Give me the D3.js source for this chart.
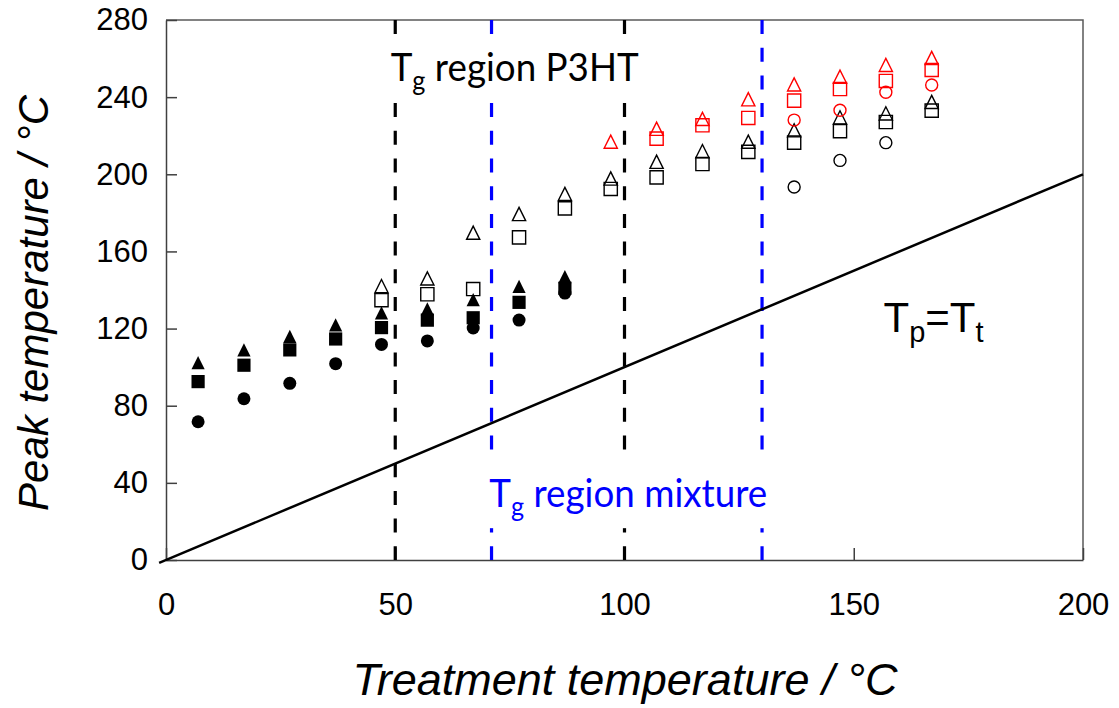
<!DOCTYPE html>
<html lang="en">
<head>
<meta charset="UTF-8">
<title>Peak temperature vs treatment temperature</title>
<script src="https://d3js.org/d3.v7.min.js"></script>
<style>
  body { margin: 0; padding: 0; background: #fff; }
  svg { display: block; }
</style>
</head>
<body>
<div id="chart"></div>
<script>
// treatment temperatures (°C)
const ttFilled = [7, 17, 27, 37, 47, 57, 67, 77, 87];
const ttOpen = [47, 57, 67, 77, 87, 97, 107, 117, 127, 137, 147, 157, 167];
const ttOpenCircle = [137, 147, 157];
const ttRedTri = [97, 107, 117, 127, 137, 147, 157, 167];
const ttRedSq = [107, 117, 127, 137, 147, 157, 167];
const ttRedCircle = [137, 147, 157, 167];

// peak temperatures (°C)
const filledTri = [102.3, 109.0, 116.0, 121.9, 128.1, 130.2, 135.0, 141.9, 146.9];
const filledSq = [92.5, 101.0, 109.0, 114.6, 120.5, 124.4, 125.6, 133.6, 140.9];
const filledCircle = [71.7, 83.6, 91.6, 101.8, 111.8, 113.6, 120.3, 124.4, 138.4];
const openTri = [142.0, 146.0, 169.7, 179.4, 189.8, 197.8, 206.5, 212.0, 216.9, 222.8, 229.5, 231.6, 237.5];
const openSq = [134.7, 137.8, 140.5, 167.3, 182.3, 192.4, 198.4, 205.3, 211.6, 216.4, 222.4, 227.1, 233.0];
const openCircle = [193.4, 207.2, 216.4];
const redTri = [216.9, 223.6, 228.7, 238.9, 246.6, 250.6, 256.7, 260.3];
const redSq = [218.5, 225.4, 229.2, 238.2, 244.2, 248.4, 254.1];
const redCircle = [228.1, 233.2, 242.5, 246.3];

// Tg regions (°C)
const tgP3HT = [50, 100];
const tgMixture = [71, 130];

const xTicks = [0, 50, 100, 150, 200];
const yTicks = [0, 40, 80, 120, 160, 200, 240, 280];

const W = 1119, H = 708;
const margin = {top: 20, right: 36, bottom: 148, left: 166};
const width = W - margin.left - margin.right,
      height = H - margin.top - margin.bottom;

const svg = d3.select("#chart").append("svg")
    .attr("width", W).attr("height", H);
const g = svg.append("g")
    .attr("transform", `translate(${margin.left},${margin.top})`);

const x = d3.scaleLinear().domain([0, 200]).range([0, width]);
const y = d3.scaleLinear().domain([0, 280]).range([height, 0]);

const axisFont = "'Liberation Sans', Arial, sans-serif";
const calibriLike = "Lato, 'Open Sans', sans-serif";

// frame (top + right)
g.append("path")
    .attr("d", `M0,0H${width}V${height}`)
    .attr("fill", "none").attr("stroke", "#595959").attr("stroke-width", 1.5);

// axes with inward ticks
const yAxis = g.append("g")
    .call(d3.axisLeft(y).tickValues(yTicks).tickSizeInner(-11).tickSizeOuter(0).tickPadding(18));
const xAxis = g.append("g")
    .attr("transform", `translate(0,${height})`)
    .call(d3.axisBottom(x).tickValues(xTicks).tickSizeInner(-12).tickSizeOuter(0).tickPadding(33));
[xAxis, yAxis].forEach(a => {
  a.select(".domain").attr("stroke", "#404040").attr("stroke-width", 1.5);
  a.selectAll(".tick line").attr("stroke", "#404040").attr("stroke-width", 1.5);
  a.selectAll(".tick text").attr("font-family", axisFont).attr("font-size", 31).attr("fill", "#000");
});

// Tg dashed lines
const dash = "14,13.7";
g.selectAll(".tgP3HT").data(tgP3HT).join("line")
    .attr("x1", d => x(d)).attr("x2", d => x(d))
    .attr("y1", 0).attr("y2", height)
    .attr("stroke", "#000").attr("stroke-width", 3.2).attr("stroke-dasharray", dash);
g.selectAll(".tgMix").data(tgMixture).join("line")
    .attr("x1", d => x(d)).attr("x2", d => x(d))
    .attr("y1", 0).attr("y2", height)
    .attr("stroke", "#0000ff").attr("stroke-width", 3.2).attr("stroke-dasharray", dash);

// Tp = Tt line
const diag = [-1.5, 200];
g.append("line")
    .attr("x1", x(diag[0])).attr("y1", y(diag[0]))
    .attr("x2", x(diag[1])).attr("y2", y(diag[1]))
    .attr("stroke", "#000").attr("stroke-width", 2.5);

// label boxes for the Tg regions
function regionLabel(tx, ty, boxX0, boxX1, boxY0, boxY1, colour, word, targetW) {
  g.append("rect")
      .attr("x", x(boxX0)).attr("width", x(boxX1) - x(boxX0))
      .attr("y", y(boxY1)).attr("height", y(boxY0) - y(boxY1))
      .attr("fill", "#fff");
  const t = g.append("text")
      .attr("x", x(tx)).attr("y", y(ty))
      .attr("font-family", calibriLike).attr("font-size", 38)
      .attr("fill", colour);
  t.append("tspan").text("T");
  t.append("tspan").attr("font-size", 26).attr("dy", 9).text("g");
  t.append("tspan").attr("dy", -9).text(" region " + word);
  t.attr("textLength", targetW).attr("lengthAdjust", "spacingAndGlyphs");
}
regionLabel(49.0, 248.3, 47, 105, 238.5, 271.7, "#000", "P3HT", 248);
regionLabel(70.5, 27.5, 68, 133, 16.5, 51.3, "#0000ff", "mixture", 278);

// Tp = Tt text
const tp = g.append("text")
    .attr("x", x(156.5)).attr("y", y(118))
    .attr("font-family", axisFont).attr("font-size", 42).attr("fill", "#000");
tp.append("tspan").text("T");
tp.append("tspan").attr("font-size", 29).attr("dy", 10).text("p");
tp.append("tspan").attr("dy", -10).text("=T");
tp.append("tspan").attr("font-size", 29).attr("dy", 10).text("t");

// markers
const s = 6.6;
const tri = (cx, cy) => `M${cx},${cy - s}L${cx + s},${cy + s}L${cx - s},${cy + s}Z`;
const sq = (cx, cy) => `M${cx - s},${cy - s}h${2 * s}v${2 * s}h${-2 * s}Z`;

function series(xs, ys, shape, filled, colour) {
  const pts = xs.map((d, i) => [d, ys[i]]);
  const sel = shape === "circle"
    ? g.append("g").selectAll("circle").data(pts).join("circle")
        .attr("cx", d => x(d[0])).attr("cy", d => y(d[1])).attr("r", filled ? 6.5 : 6)
    : g.append("g").selectAll("path").data(pts).join("path")
        .attr("d", d => (shape === "tri" ? tri : sq)(x(d[0]), y(d[1])));
  if (filled) sel.attr("fill", colour);
  else sel.attr("fill", "none").attr("stroke", colour).attr("stroke-width", 1.4);
}

series(ttFilled, filledCircle, "circle", true, "#000");
series(ttFilled, filledSq, "sq", true, "#000");
series(ttFilled, filledTri, "tri", true, "#000");
series(ttOpen, openSq, "sq", false, "#000");
series(ttOpen, openTri, "tri", false, "#000");
series(ttOpenCircle, openCircle, "circle", false, "#000");
series(ttRedSq, redSq, "sq", false, "#ff0000");
series(ttRedTri, redTri, "tri", false, "#ff0000");
series(ttRedCircle, redCircle, "circle", false, "#ff0000");

// axis titles
svg.append("text")
    .attr("x", 625).attr("y", 695)
    .attr("text-anchor", "middle")
    .attr("font-family", axisFont).attr("font-style", "italic").attr("font-size", 45)
    .text("Treatment temperature / °C");
svg.append("text")
    .attr("transform", "translate(48,303) rotate(-90)")
    .attr("text-anchor", "middle")
    .attr("font-family", axisFont).attr("font-style", "italic").attr("font-size", 42)
    .text("Peak temperature / °C");
</script>
</body>
</html>
